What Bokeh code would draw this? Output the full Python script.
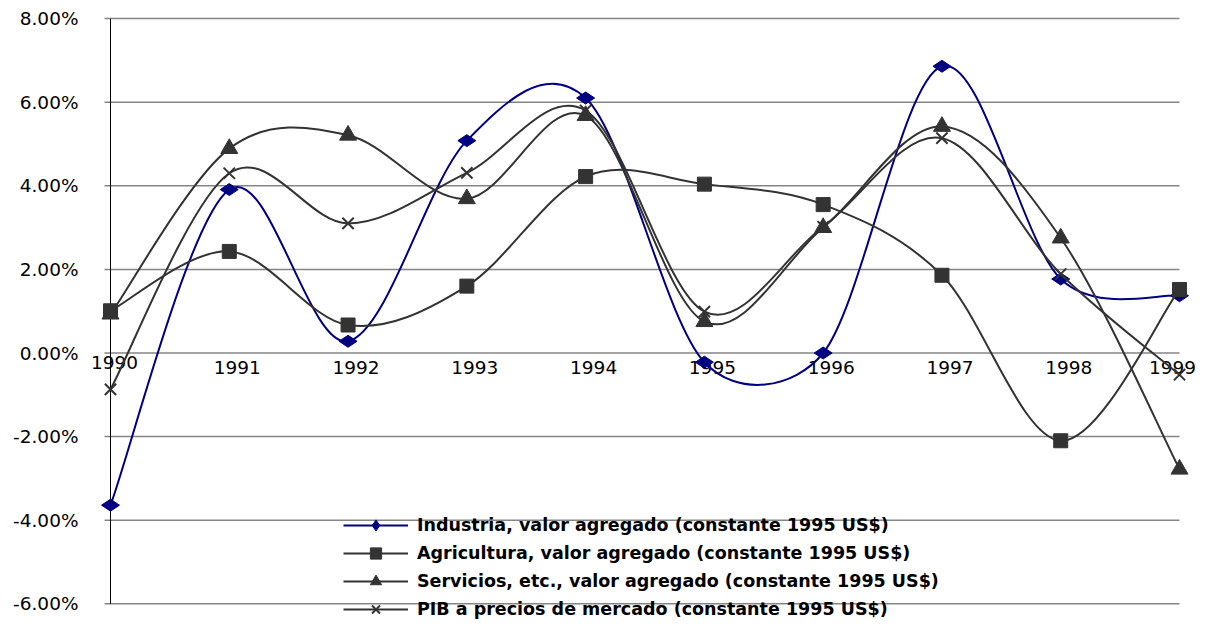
import math
from bokeh.plotting import figure
from bokeh.models import (ColumnDataSource, Range1d, FixedTicker, PrintfTickFormatter,
                          Legend, LegendItem)
from bokeh.core.properties import value
from bokeh.embed import file_html
from bokeh.resources import INLINE

# ---------------- data ----------------
years = ["1990", "1991", "1992", "1993", "1994", "1995", "1996", "1997", "1998", "1999"]
industria = [-3.64, 3.91, 0.28, 5.08, 6.10, -0.22, 0.00, 6.86, 1.77, 1.37]
agricultura = [1.01, 2.43, 0.67, 1.60, 4.22, 4.04, 3.55, 1.86, -2.10, 1.52]
servicios = [0.93, 4.89, 5.21, 3.69, 5.68, 0.75, 3.00, 5.42, 2.75, -2.78]
pib = [-0.87, 4.30, 3.10, 4.31, 5.80, 0.99, 3.02, 5.14, 1.89, -0.52]
y_ticks = [-6, -4, -2, 0, 2, 4, 6, 8]
series_names = [
    "Industria, valor agregado (constante 1995 US$)",
    "Agricultura, valor agregado (constante 1995 US$)",
    "Servicios, etc., valor agregado (constante 1995 US$)",
    "PIB a precios de mercado (constante 1995 US$)",
]

# ---------------- layout ----------------
W, H = 1198, 630
FL, FR, FT, FB = 86, 1195, 12, 626         # frame edges (canvas px)
X0_PX, X9_PX = 110, 1179                   # category 0 and 9 (canvas px)
PX_CAT = (X9_PX - X0_PX) / 9.0
Y0_PX, PX_PCT = 352.5, 41.8                # 0% line and px per 1%

x_start = (FL - X0_PX) / PX_CAT
x_end = 9 + (FR - X9_PX) / PX_CAT
y_end = (Y0_PX - FT) / PX_PCT
y_start = (Y0_PX - FB) / PX_PCT

p = figure(width=W, height=H, output_backend="svg", toolbar_location=None,
           x_range=Range1d(x_start, x_end), y_range=Range1d(y_start, y_end),
           x_axis_location=None, min_border_left=FL, min_border_right=W - FR,
           min_border_top=FT, min_border_bottom=H - FB)
p.outline_line_color = None
p.grid.visible = False
p.background_fill_color = "white"
p.border_fill_color = "white"

xi = list(range(len(years)))

# gridlines (with outside tick stub) and the category axis line at 0
tick_len = 6.0 / PX_CAT
p.segment(x0=[-tick_len] * len(y_ticks), x1=[xi[-1]] * len(y_ticks),
          y0=y_ticks, y1=y_ticks, line_color="#858585", line_width=1.5)
p.segment(x0=[xi[0]], x1=[xi[0]], y0=[min(y_ticks)], y1=[max(y_ticks)],
          line_color="black", line_width=1)

# y axis
ax = p.yaxis[0]
ax.ticker = FixedTicker(ticks=y_ticks, minor_ticks=[])
ax.formatter = PrintfTickFormatter(format="%.2f%%")
ax.axis_line_color = None
ax.major_tick_line_color = None
ax.minor_tick_line_color = None
ax.major_tick_out = 0
ax.major_tick_in = 0
ax.major_label_standoff = 8
ax.major_label_text_font = "DejaVu Sans"
ax.major_label_text_font_size = "18.5px"
ax.major_label_text_color = "black"

# category labels sitting on the 0% line
lab_dx = [4] + [8] * (len(years) - 2) + [-7]
lab_dy = [9] + [14] * (len(years) - 1)
p.text(x=xi, y=[0] * len(years), text=years, x_offset=lab_dx, y_offset=lab_dy,
       text_align="center", text_baseline="alphabetic",
       text_font=value("DejaVu Sans"), text_font_size="18.5px", text_color="black")

# Excel-like smoothing: Catmull-Rom (1/6) bezier, tangent capped at half chord
KX = 2.0  # relative horizontal scale for the tangent cap


def smooth(xs, ys):
    n = len(xs)
    d = dict(x0=[], y0=[], x1=[], y1=[], cx0=[], cy0=[], cx1=[], cy1=[])
    for i in range(n - 1):
        a = i - 1 if i > 0 else i
        b = i + 2 if i + 2 < n else i + 1
        xa, ya, xb, yb = xs[i], ys[i], xs[i + 1], ys[i + 1]
        half = 0.5 * math.hypot((xb - xa) * KX, yb - ya)
        t1x, t1y = (xb - xs[a]) / 6.0, (yb - ys[a]) / 6.0
        t2x, t2y = (xs[b] - xa) / 6.0, (ys[b] - ya) / 6.0
        l1 = math.hypot(t1x * KX, t1y)
        l2 = math.hypot(t2x * KX, t2y)
        s1 = half / l1 if l1 > half else 1.0
        s2 = half / l2 if l2 > half else 1.0
        d["x0"].append(xa); d["y0"].append(ya)
        d["x1"].append(xb); d["y1"].append(yb)
        d["cx0"].append(xa + t1x * s1); d["cy0"].append(ya + t1y * s1)
        d["cx1"].append(xb - t2x * s2); d["cy1"].append(yb - t2y * s2)
    return ColumnDataSource(d)


styles = [
    dict(vals=industria, color="#000080", marker="diamond", size=18, angle=math.pi / 2),
    dict(vals=agricultura, color="#333333", marker="square", size=14, angle=0),
    dict(vals=servicios, color="#333333", marker="triangle", size=17, angle=0),
    dict(vals=pib, color="#333333", marker="x", size=16, angle=0),
]

items = []
for name, st in zip(series_names, styles):
    br = p.bezier(x0="x0", y0="y0", x1="x1", y1="y1", cx0="cx0", cy0="cy0",
                  cx1="cx1", cy1="cy1", source=smooth(xi, st["vals"]),
                  line_color=st["color"], line_width=2)
    sr = p.scatter(x=xi, y=st["vals"], marker=st["marker"], size=st["size"],
                   angle=st["angle"], fill_color=st["color"], line_color=st["color"],
                   line_width=2 if st["marker"] == "x" else 1)
    items.append(LegendItem(label=name, renderers=[br, sr]))

row_h = 28
legend_top = 525 - row_h / 2
legend_h = 4 * row_h
legend = Legend(items=items, location=(343 - FL, FB - (legend_top + legend_h)),
                orientation="vertical",
                glyph_width=65, glyph_height=row_h, label_height=row_h, label_standoff=9,
                spacing=0, padding=0, margin=0,
                background_fill_alpha=0, border_line_color=None,
                label_text_font="DejaVu Sans", label_text_font_style="bold",
                label_text_font_size="17.5px", label_text_color="black")
p.add_layout(legend)

open("out.html", "w").write(file_html(p, INLINE))
